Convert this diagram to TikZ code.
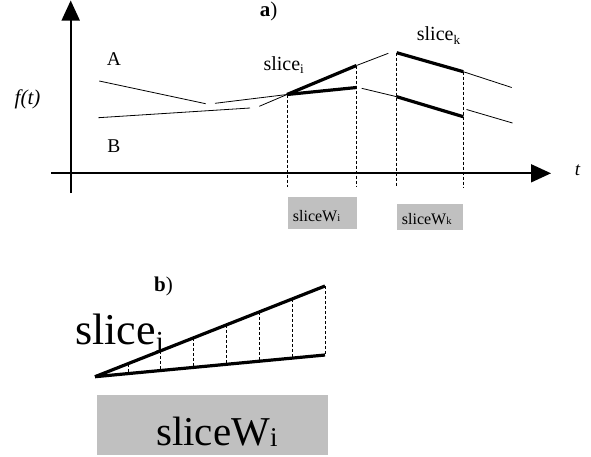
\documentclass[tikz,border=0pt]{standalone}
\usepackage{fontspec}
\setmainfont{Liberation Serif}
\usetikzlibrary{arrows.meta,calc}
\definecolor{boxgray}{RGB}{192,192,192}
\tikzset{
  thinline/.style={line width=0.8pt},
  thickline/.style={line width=3.2pt},
  axisline/.style={line width=1.8pt, -{Triangle[length=20pt,width=18pt]}},
  guide/.style={line width=0.7pt, dash pattern=on 3pt off 2pt},
  graybox/.style={fill=boxgray, inner sep=0pt, draw=none},
  lbl/.style={inner sep=0pt, anchor=base west},
}
\newcommand{\fsz}[1]{\fontsize{#1}{#1}\selectfont}
\newcommand{\sbx}[2]{\raisebox{#1}{\scalebox{0.66}{#2}}}
\begin{document}
\begin{tikzpicture}[x=1pt,y=-1pt]
\useasboundingbox (0,0) rectangle (591,456);
% ---- a) ----
\coordinate (yb) at (70.7,193);
\coordinate (yt) at (70.7,0.5);
\coordinate (xl) at (51,173.3);
\coordinate (xr) at (551,173.3);
\draw[axisline] (yb) -- (yt);
\draw[axisline] (xl) -- (xr);
\node[inner sep=0pt] (ft) at (27.5,99) {\fsz{21}\itshape f(t)};
\node[inner sep=0pt] (tl) at (577.5,170) {\fsz{19}\itshape t};
\node[inner sep=0pt, anchor=base] (la) at (268.7,16.5) {\fsz{21}\textbf{a})};
\node[inner sep=0pt, anchor=base] (lA) at (114,65) {\fsz{19.5}A};
\node[inner sep=0pt, anchor=base] (lB) at (114,152.3) {\fsz{19.5}B};
\node[lbl] (lsi) at (263.3,70.7) {\fsz{20}slice\sbx{-0.14em}{i}};
\node[lbl] (lsk) at (416.7,40) {\fsz{20}slice\sbx{-0.2em}{k}};
% points
\coordinate (Si0) at (287,94.5);
\coordinate (SiU) at (356.5,65.5);
\coordinate (SiL) at (356.5,87.5);
\coordinate (SkU0) at (396.7,52.7);
\coordinate (SkU1) at (463.3,71.7);
\coordinate (SkL0) at (396.7,96.7);
\coordinate (SkL1) at (463.3,116.7);
% thin curves
\coordinate (a1s) at (99.3,81);   \coordinate (a1e) at (205.7,103.7);
\coordinate (a2s) at (215,103.3);
\coordinate (b1s) at (98.3,117.7); \coordinate (b1e) at (250,108);
\coordinate (b2s) at (259.3,106.3);
\coordinate (c1e) at (388.3,53.3);
\coordinate (c2s) at (361.7,88.3);
\coordinate (d1e) at (511.7,87.5);
\coordinate (d2s) at (466.5,109.5); \coordinate (d2e) at (512.5,123);
\draw[thinline] (a1s) -- (a1e);
\draw[thinline] (a2s) -- (Si0);
\draw[thinline] (b1s) -- (b1e);
\draw[thinline] (b2s) -- (Si0);
\draw[thinline] (SiU) -- (c1e);
\draw[thinline] (c2s) -- (SkL0);
\draw[thinline] (SkU1) -- (d1e);
\draw[thinline] (d2s) -- (d2e);
% thick slices
\draw[thickline] (Si0) -- (SiU);
\draw[thickline] (Si0) -- (SiL);
\draw[thickline] (SkU0) -- (SkU1);
\draw[thickline] (SkL0) -- (SkL1);
% dashed guides
\foreach \p in {Si0,SiU,SkU0,SkU1}{
  \draw[guide] (\p) -- (\p |- 0,187);
}
% boxes
\node[graybox, minimum width=69pt, minimum height=32.5pt] (bi) at (322.5,213) {};
\node[graybox, minimum width=66pt, minimum height=26pt] (bk) at (430.3,217) {};
\node[lbl] (tbi) at (292.7,221.7) {\fsz{16}sliceW\sbx{0pt}{i}};
\node[lbl] (tbk) at (401.7,224) {\fsz{16}sliceW\sbx{0pt}{k}};
% ---- b) ----
\node[inner sep=0pt, anchor=base] (lb) at (163.5,291) {\fsz{21}\textbf{b})};
\coordinate (P) at (95,376.7);
\coordinate (U) at (325,286);
\coordinate (L) at (325,355);
\foreach \k in {1,...,7}{
  \draw[guide] ($(P)!\k/7!(U)$) -- ($(P)!\k/7!(L)$);
}
\draw[thickline] (P) -- (U);
\draw[thickline] (P) -- (L);
\node[lbl] (lbs) at (75,344) {\fsz{44}slice\sbx{-0.18em}{i}};
\node[graybox, minimum width=231.5pt, minimum height=60pt] (bb) at (212.5,425) {};
\node[lbl] (tbb) at (156,445) {\fsz{41}sliceW\sbx{-0.03em}{i}};
\end{tikzpicture}
\end{document}
